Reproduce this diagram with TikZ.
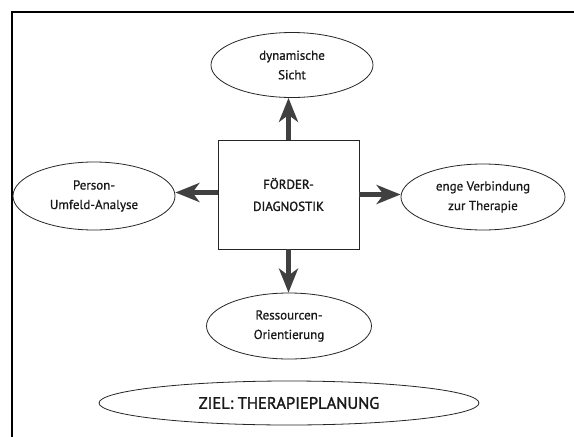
\documentclass[tikz,border=0pt]{standalone}
\usepackage{fontspec}
\setmainfont{PT Sans}
\newfontfamily\ovalfont[FakeBold=0.7]{PT Sans}
\newfontfamily\strongfont[FakeBold=1.6]{PT Sans}
\usetikzlibrary{shapes.geometric,arrows.meta}
\begin{document}
\begin{tikzpicture}[x=1pt,y=-1pt,
  oval/.style={ellipse,draw=black!85,line width=0.8pt,inner sep=0pt,align=center,text=black!90,font=\ovalfont\fontsize{13}{19.5}\selectfont},
  centerbox/.style={rectangle,draw=black!85,line width=0.9pt,inner sep=0pt,align=center,minimum width=141pt,minimum height=109pt,text=black!90,font=\strongfont\fontsize{13}{22}\selectfont},
  bigarrow/.style={draw=black!75,line width=4.5pt,-{Stealth[length=24pt,width=19pt,inset=7pt,fill=black!75]}}
]
\useasboundingbox (0,0) rectangle (574,437);
\fill[white] (0,0) rectangle (574,437);
\draw[line width=2.2pt,black] (12,437) -- (12,12) -- (574,12);

\node[centerbox] (box) at (288.5,194.5) {FÖRDER-\\DIAGNOSTIK};
\node[oval,minimum width=162pt,minimum height=65pt] (top) at (292,65) {dynamische\\Sicht};
\node[oval,minimum width=162pt,minimum height=68pt] (left) at (94,196) {Person-\\Umfeld-Analyse};
\node[oval,minimum width=164pt,minimum height=66pt] (right) at (483,197) {enge Verbindung\\zur Therapie};
\node[oval,minimum width=165pt,minimum height=66pt] (bottom) at (289,326) {Ressourcen-\\Orientierung};
\node[oval,minimum width=380pt,minimum height=44pt,font=\strongfont\fontsize{16.5}{20}\selectfont] (goal) at (289,403) {ZIEL: THERAPIEPLANUNG};

\draw[bigarrow] (box.north) -- (box.north |- top.south);
\draw[bigarrow] (box.south) -- (box.south |- bottom.north);
\draw[bigarrow] ([yshift=2pt]box.west) -- ([yshift=2pt]box.west -| left.east);
\draw[bigarrow] (box.east) -- (box.east -| right.west);
\end{tikzpicture}
\end{document}
